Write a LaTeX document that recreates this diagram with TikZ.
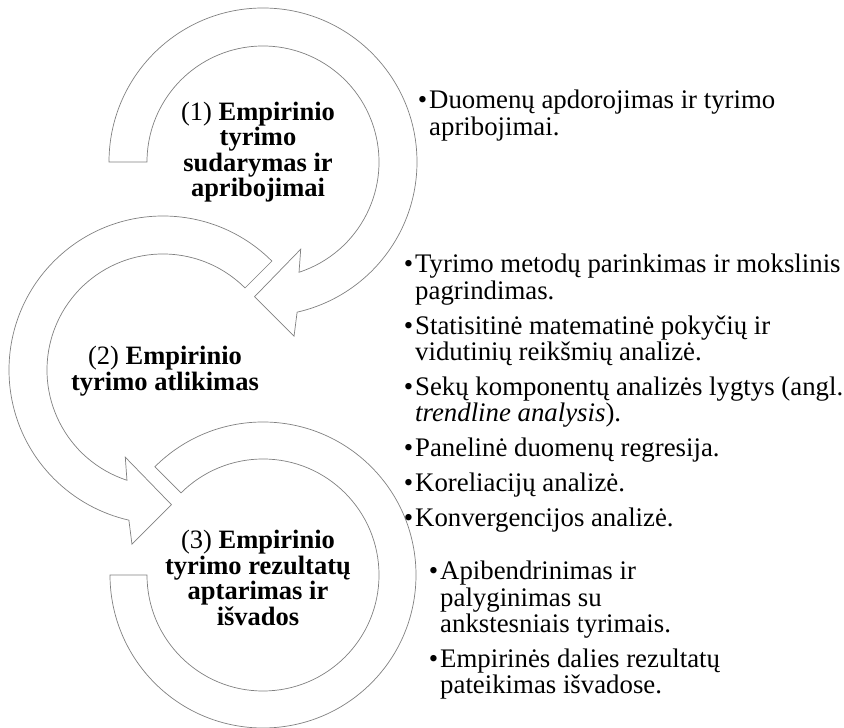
\documentclass[tikz,border=0pt]{standalone}
\usepackage{fontspec}
\setmainfont{Liberation Serif}
\usetikzlibrary{calc}

\newcommand{\bitem}{\llap{\textbullet\hspace{2pt}}}

\begin{document}
\begin{tikzpicture}[x=1pt,y=1pt,
        ringarrow/.style={draw=black!50, fill=white, line width=0.7pt, line join=miter},
        ringtext/.style={align=center, inner sep=0pt, font=\fontsize{26.5}{25.5}\selectfont\bfseries},
        itemtext/.style={anchor=base west, inner sep=0pt, font=\fontsize{26.8}{25}\selectfont}]
        \useasboundingbox (0,0) rectangle (844,728);

        \coordinate (c1) at (263,566);
        \coordinate (c2) at (163,358);
        \coordinate (c3) at (263,153);

        % arrow 1, tail on the left, head towards ring 2
        \begin{scope}[shift={(c1)}]
            \draw[ringarrow] (180:154) arc[start angle=180, end angle=-77.2, radius=154]
                -- (-79.9:177) -- (-93.6:135) -- (-66.6:95)
                -- (-71.9:116) arc[start angle=-71.9, end angle=180, radius=116] -- cycle;
        \end{scope}

        % arrow 2, tail top right, head towards ring 3
        \begin{scope}[shift={(c2)}]
            \draw[ringarrow] (45:154) arc[start angle=45, end angle=257.2, radius=154]
                -- (259.9:177) -- (273.6:135) -- (246.6:95)
                -- (251.9:116) arc[start angle=251.9, end angle=45, radius=116] -- cycle;
        \end{scope}

        % arrow 3, no head
        \begin{scope}[shift={(c3)}]
            \draw[ringarrow] (135:153) arc[start angle=135, end angle=-180, radius=153]
                -- (-180:116) arc[start angle=-180, end angle=135, radius=116] -- cycle;
        \end{scope}

        \node[ringtext] (step1) at (258,576) {\mdseries(1) \bfseries Empirinio\\tyrimo\\sudarymas ir\\apribojimai};
        \node[ringtext] (step2) at (165,357) {\mdseries(2) \bfseries Empirinio\\tyrimo atlikimas};
        \node[ringtext] (step3) at (258,150) {\mdseries(3) \bfseries Empirinio\\tyrimo rezultatų\\aptarimas ir\\išvados};

        \node[itemtext] (list1) at (429,619) {\begin{tabular}[t]{@{}l@{}}
            \bitem Duomenų apdorojimas ir tyrimo\\
            apribojimai.
        \end{tabular}};

        \node[itemtext] (list2) at (415,455) {\begin{tabular}[t]{@{}l@{}}
            \bitem Tyrimo metodų parinkimas ir mokslinis\\
            pagrindimas.\\[9pt]
            \bitem Statisitinė matematinė pokyčių ir\\
            vidutinių reikšmių analizė.\\[9pt]
            \bitem Sekų komponentų analizės lygtys (angl.\\
            \textit{trendline analysis}).\\[9pt]
            \bitem Panelinė duomenų regresija.\\[9pt]
            \bitem Koreliacijų analizė.\\[9pt]
            \bitem Konvergencijos analizė.
        \end{tabular}};

        \node[itemtext] (list3) at (440,148) {\begin{tabular}[t]{@{}l@{}}
            \bitem Apibendrinimas ir\\
            palyginimas su\\
            ankstesniais tyrimais.\\[9pt]
            \bitem Empirinės dalies rezultatų\\
            pateikimas išvadose.
        \end{tabular}};

\end{tikzpicture}
\end{document}
